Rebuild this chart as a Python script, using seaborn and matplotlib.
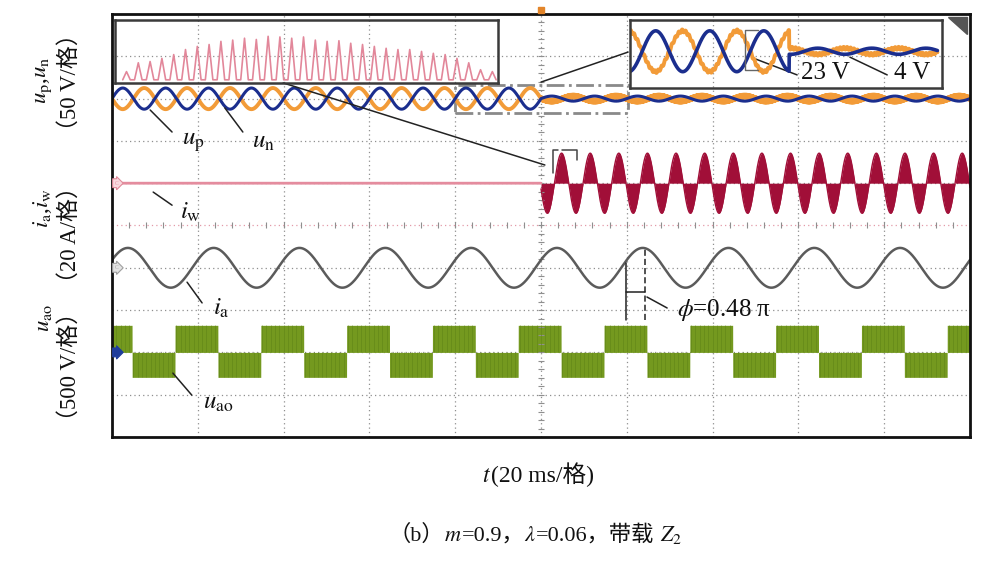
import numpy as np
import pandas as pd
import seaborn as sns
import matplotlib.pyplot as plt
from matplotlib.patches import Rectangle, Polygon

W, H = 1002, 564

# scope screen: 10 x 10 div, 20 ms/div -> time 0..200 ms, y in divisions
t_end = 200.0
t_step = 100.0  # instant where compensation starts

# u_p / u_n (50 V/div)
upn_zero = 8.0
upn_amp = [0.25, 0.06]  # before / after t_step
upn_period = 10.0
upn_peak = 22.5

# i_w (20 A/div)
iw_zero = 6.0
iw_amp = 0.71
iw_period = 6.67
iw_peak = 104.8

# i_a (20 A/div)
ia_zero = 4.0
ia_amp = 0.47
ia_period = 20.0
ia_peak = 3.7

# u_ao (500 V/div)
uao_zero = 2.0
uao_levels = [0.64, -0.59]
uao_period = 20.0
uao_rise = 14.7

# left zoom box: i_w pulses, peak height as fraction of the box
inset_peaks = [0.18, 0.32, 0.34, 0.39, 0.45, 0.53, 0.58, 0.61, 0.66, 0.68,
               0.71, 0.69, 0.74, 0.73, 0.71, 0.73, 0.68, 0.66, 0.67, 0.63,
               0.61, 0.58, 0.55, 0.53, 0.53, 0.50, 0.47, 0.45, 0.39, 0.32,
               0.21, 0.18]

# right zoom box: u_p / u_n around t_step, fractions of the box
zoom_zero = 0.54
zoom_amp = [0.30, 0.045]
zoom_period = 0.173
zoom_peak = 0.256
zoom_step = 0.51

c_up = "#F29B38"
c_un = "#1B2E8E"
c_iw0 = "#E48C9E"
c_iw = "#A10F38"
c_ia = "#5B5B5B"
c_uao = "#74991F"

sns.set_theme(style="white")
plt.rcParams["font.family"] = ["Liberation Serif", "Noto Sans CJK SC"]
plt.rcParams["mathtext.fontset"] = "stix"

fig = plt.figure(figsize=(W / 100, H / 100), dpi=100)
ax = fig.add_axes([112 / W, 1 - 437 / H, 858 / W, 423 / H])
ax.set_xlim(0, t_end)
ax.set_ylim(0, 10)
ax.set_xticks(np.arange(0, t_end + 1, 20))
ax.set_yticks(np.arange(0, 11, 1))
ax.tick_params(length=0, labelbottom=False, labelleft=False)
ax.grid(True, color="#8f8f8f", ls=(0, (1, 2.5)), lw=0.9)
ax.get_ygridlines()[5].set_color("#E39AA8")
for s in ax.spines.values():
    s.set_color("#111111")
    s.set_linewidth(2)
# small ticks on the centre lines
ax.plot(np.arange(0, t_end, 4), np.full(50, 5.0), ls="none", marker="|",
        ms=4, color="#8f8f8f", mew=0.8)
ax.plot(np.full(50, 100.0), np.arange(0, 10, 0.2), ls="none", marker="_",
        ms=4, color="#8f8f8f", mew=0.8)

t = np.linspace(0, t_end, 8001)
before = t < t_step

# u_p, u_n
amp = np.where(before, upn_amp[0], upn_amp[1])
wave = amp * np.cos(2 * np.pi * (t - upn_peak) / upn_period)
fuzz = np.where(before, 0.0, 0.035 * np.sin(2 * np.pi * t / 0.23))
df = pd.DataFrame({"t": t, "up": upn_zero - wave + fuzz, "un": upn_zero + wave})
sns.lineplot(data=df, x="t", y="up", ax=ax, color=c_up, lw=2.8,
             estimator=None, sort=False)
sns.lineplot(data=df, x="t", y="un", ax=ax, color=c_un, lw=2.2,
             estimator=None, sort=False)

# i_w
t_pre = t[t <= t_step]
sns.lineplot(x=t_pre, y=np.full_like(t_pre, iw_zero), ax=ax, color=c_iw0,
             lw=2, estimator=None, sort=False)
t_post = t[t >= t_step]
iw = iw_amp * np.cos(2 * np.pi * (t_post - iw_peak) / iw_period)
ax.fill_between(t_post, iw_zero, iw_zero + iw, color=c_iw, lw=0)
sns.lineplot(x=t_post, y=iw_zero + iw, ax=ax, color=c_iw, lw=1,
             estimator=None, sort=False)

# i_a
ia = ia_zero + ia_amp * np.cos(2 * np.pi * (t - ia_peak) / ia_period)
sns.lineplot(x=t, y=ia, ax=ax, color=c_ia, lw=1.8, estimator=None, sort=False)

# u_ao: switching blocks, with the PWM pulses showing as faint stripes
sq = np.where(((t - uao_rise) % uao_period) < uao_period / 2,
              uao_levels[0], uao_levels[1])
ax.fill_between(t, uao_zero, uao_zero + sq, color=c_uao, lw=0)
ts = t[::40]
ax.vlines(ts, uao_zero, uao_zero + sq[::40], color="#5E8216", lw=0.6,
          alpha=0.6)

# channel badges on the left edge
for y, fc, ec in [(6, "#F8D9DF", "#E08A9A"), (4, "#E4E4E4", "#A0A0A0"),
                  (2, "#1F3C9A", "#1F3C9A")]:
    ax.text(0.6, y, "C", fontsize=4, color=ec, va="center", ha="left",
            bbox=dict(boxstyle="rarrow,pad=0.35", fc=fc, ec=ec, lw=0.8))
ax.plot([100], [10.1], marker="s", ms=5, color="#E3852A", clip_on=False,
        zorder=10)
ax.add_patch(Polygon([(194.9, 9.93), (199.3, 9.93), (199.3, 9.53)],
                     closed=True, color="#555555"))

# left zoom box
axl = ax.inset_axes([0.7, 8.37, 89.3, 1.49], transform=ax.transData)
n = len(inset_peaks)
pk = np.linspace(0.03, 0.985, n)
hw = 0.32 * (pk[1] - pk[0])
xs = np.column_stack([pk - hw, pk, pk + hw]).ravel()
ys = np.column_stack([np.full(n, 0.05), inset_peaks, np.full(n, 0.05)]).ravel()
sns.lineplot(x=xs, y=ys, ax=axl, color="#E2879A", lw=1.2,
             estimator=None, sort=False)

# right zoom box
axr = ax.inset_axes([120.7, 8.25, 72.8, 1.61], transform=ax.transData)
xz = np.linspace(0.0, 0.985, 2000)
za = np.where(xz < zoom_step, zoom_amp[0], zoom_amp[1])
zw = za * np.cos(2 * np.pi * (xz - zoom_peak) / zoom_period)
sns.lineplot(x=xz, y=zoom_zero - zw + 0.02 * np.sin(2 * np.pi * xz / 0.011),
             ax=axr, color=c_up, lw=2.8, estimator=None, sort=False)
sns.lineplot(x=xz, y=zoom_zero + zw, ax=axr, color=c_un, lw=2.6,
             estimator=None, sort=False)
axr.plot([0.41, 0.37, 0.37, 0.41], [0.85, 0.85, 0.26, 0.26], color="#666666",
         lw=1)

for a in (axl, axr):
    a.set_xlim(0, 1)
    a.set_ylim(0, 1)
    a.set_facecolor("none")
    a.set_xticks([])
    a.set_yticks([])
    a.set(xlabel="", ylabel="")
    for s in a.spines.values():
        s.set_color("#3a3a3a")
        s.set_linewidth(1.8)

# zoom links and markers
ax.add_patch(Rectangle((80.0, 7.66), 40.3, 0.66, fill=False, ec="#8a8a8a",
                       ls="-.", lw=2))
ax.plot([39.9, 100.9], [8.37, 6.43], color="#222222", lw=1.1)
ax.plot([100.0, 120.3], [8.39, 9.10], color="#222222", lw=1.1)
ax.plot([102.8, 102.8, 104.0], [6.24, 6.78, 6.78], color="#444444", lw=1.1)
ax.plot([105.0, 108.4, 108.4], [6.78, 6.78, 6.55], color="#444444", lw=1.1)
ax.plot([119.8, 119.8], [2.77, 4.11], color="#222222", lw=1.1)
ax.plot([124.2, 124.2], [2.77, 4.47], color="#222222", lw=1.1, ls=(0, (4, 2)))
ax.plot([119.8, 124.2], [3.43, 3.43], color="#222222", lw=1.1)

labels = [
    (r"$u_{\mathrm{p}}$", (18.9, 6.97), (8.9, 7.73), (14.0, 7.21)),
    (r"$u_{\mathrm{n}}$", (35.2, 6.97), (26.3, 7.78), (30.5, 7.21)),
    (r"$i_{\mathrm{w}}$", (18.4, 5.32), (9.6, 5.79), (14.0, 5.48)),
    (r"$i_{\mathrm{a}}$", (25.4, 3.05), (17.5, 3.66), (21.0, 3.17)),
    (r"$u_{\mathrm{ao}}$", (24.7, 0.80), (14.2, 1.51), (18.6, 0.99)),
    (r"$\phi$=0.48 π", (142.7, 3.00), (124.7, 3.31), (129.4, 3.05)),
    ("23 V", (166.4, 8.61), (149.4, 8.96), (159.7, 8.56)),
    ("4 V", (186.5, 8.61), (172.0, 8.98), (180.7, 8.56)),
]
for txt, (x, y), p0, p1 in labels:
    ax.plot([p0[0], p1[0]], [p0[1], p1[1]], color="#222222", lw=1.1)
    ax.text(x, y, txt, fontsize=18, ha="center", va="center", color="#111111")

ax.set(xlabel="", ylabel="")

# y labels (rotated)
ylabels = [
    (r"$u_{\mathrm{p}}$,$u_{\mathrm{n}}$", 43, 80),
    ("（50 V/格）", 70, 82),
    (r"$i_{\mathrm{a}}$,$i_{\mathrm{w}}$", 43, 208),
    ("（20 A/格）", 70, 235),
    (r"$u_{\mathrm{ao}}$", 43, 318),
    ("（500 V/格）", 70, 366),
]
for txt, x, y in ylabels:
    fig.text(x / W, 1 - y / H, txt, rotation=90, fontsize=16.5, ha="center",
             va="center", color="#111111")


def text_row(parts, xc, yb, size):
    r = fig.canvas.get_renderer()
    items, x = [], 0.0
    for s in parts:
        tx = fig.text(0, 0, s, fontsize=size, ha="left", va="baseline",
                      color="#111111")
        items.append((tx, x))
        x += tx.get_window_extent(r).width
    for tx, dx in items:
        tx.set_position(((xc - x / 2 + dx) / W, 1 - yb / H))


text_row([r"$t$", "(20 ms/格)"], 538, 482, 17)
text_row(["（b）", r"$m$", "=0.9，", r"$\lambda$", "=0.06，带载",
          r"$\ Z_2$"], 535, 541, 16)

fig.savefig("out.png", dpi=100)
